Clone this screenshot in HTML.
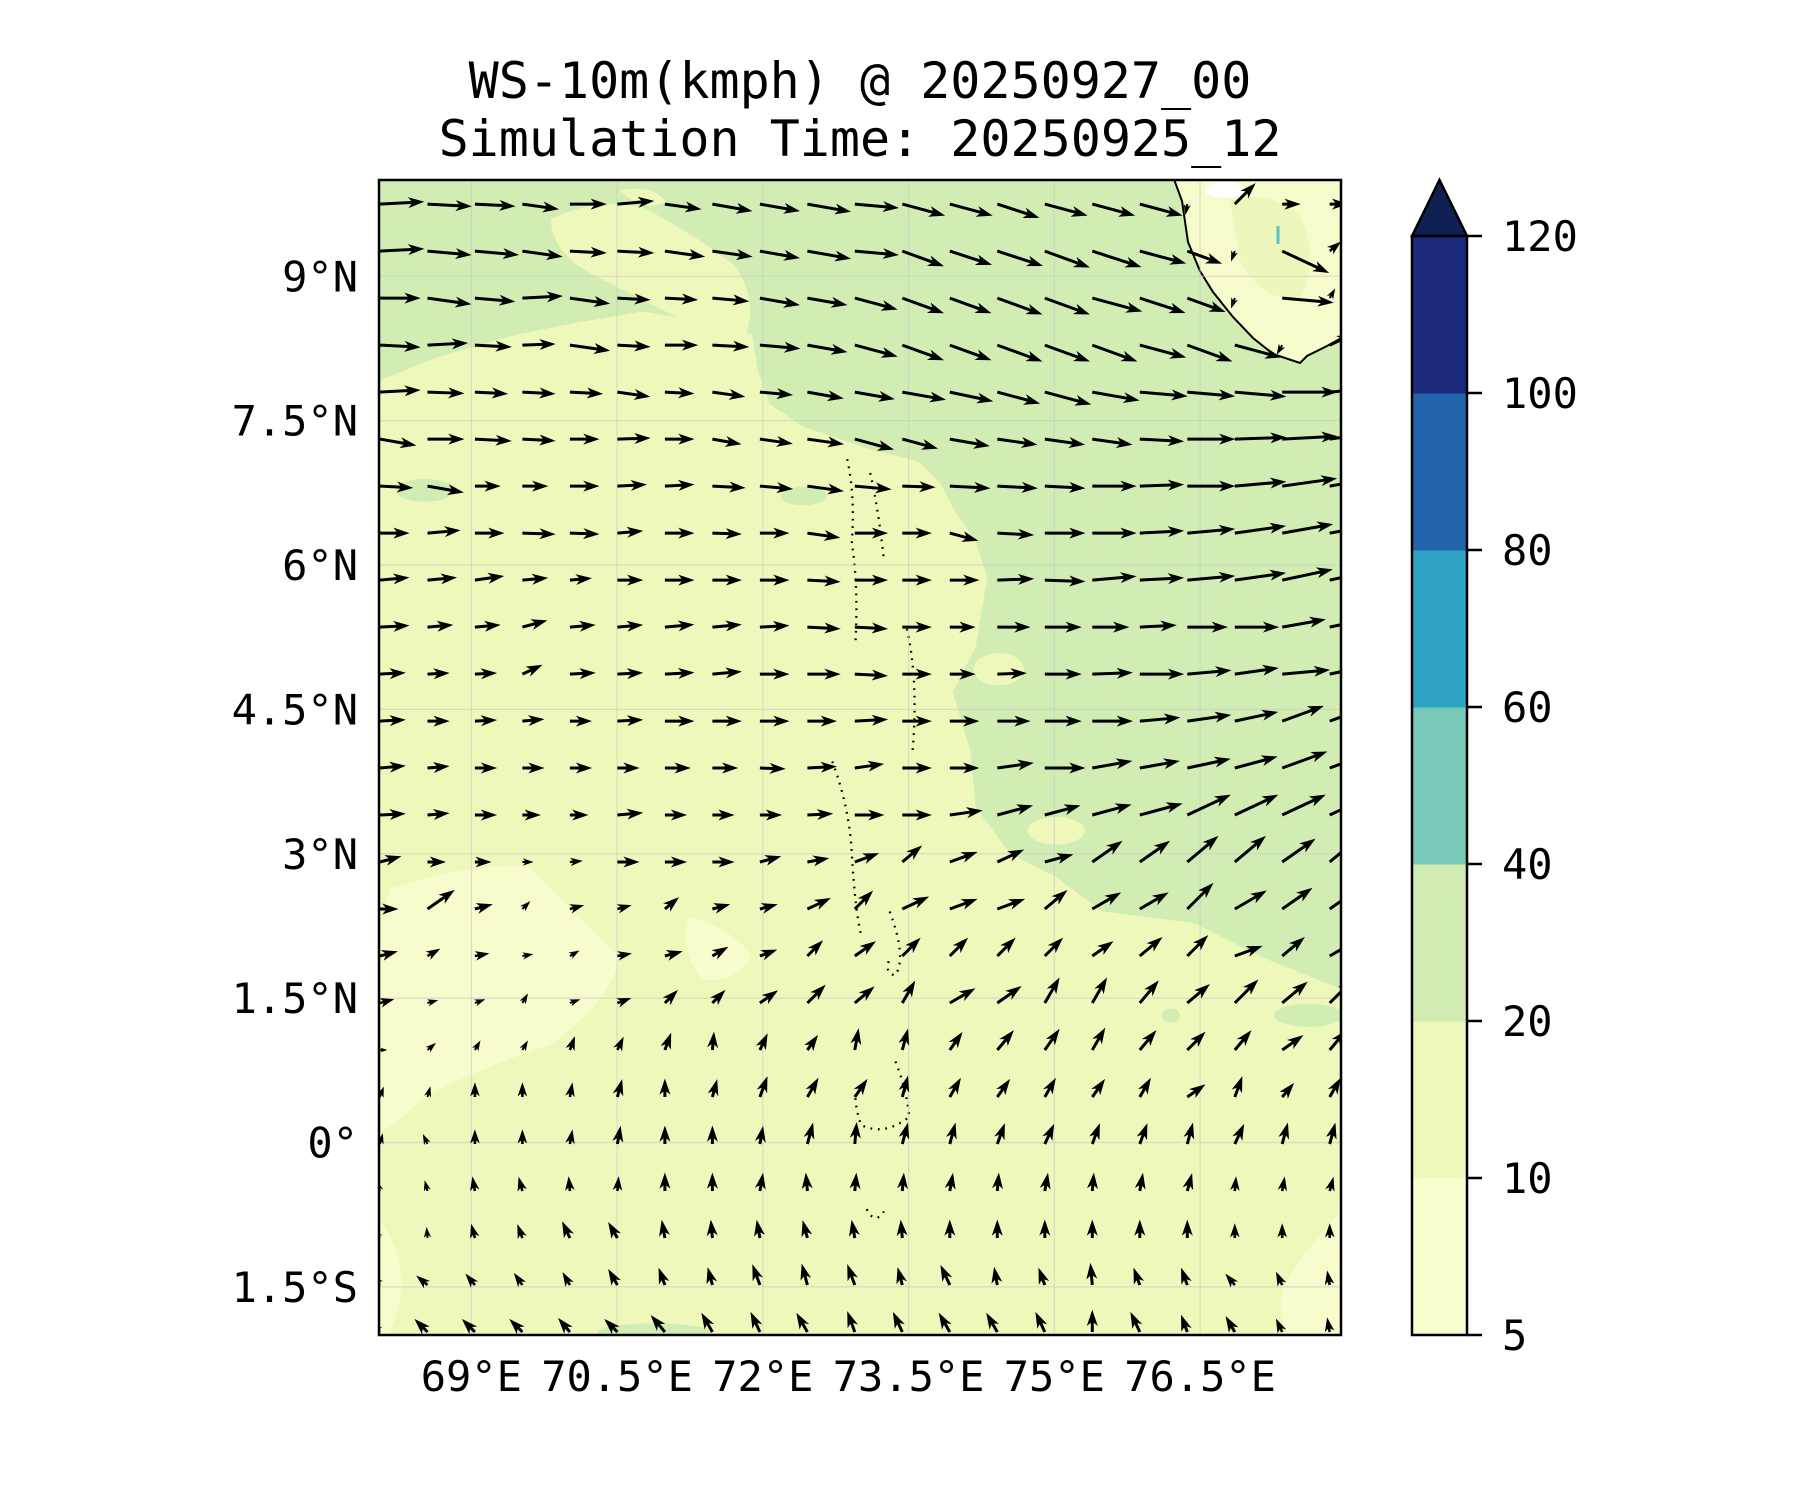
<!DOCTYPE html>
<html><head><meta charset="utf-8">
<style>
html,body{margin:0;padding:0;background:#fff;}
svg{display:block;font-family:"DejaVu Sans Mono","Liberation Mono",monospace;}
</style></head>
<body>
<svg id="fig" width="1800" height="1500" viewBox="0 0 1800 1500" xmlns="http://www.w3.org/2000/svg">
<defs><clipPath id="mapclip"><rect x="379" y="180" width="962" height="1155"/></clipPath></defs>
<text x="860" y="98" font-size="50" text-anchor="middle">WS-10m(kmph) @ 20250927_00</text>
<text x="860" y="156" font-size="50" text-anchor="middle">Simulation Time: 20250925_12</text>
<g clip-path="url(#mapclip)">
 <rect x="379" y="180" width="962" height="1155" fill="#eff8bb"/>
 <g transform="scale(1.148,1.1538)">
  <polygon fill="#d2edb4" points="330,157 1025,157 1175,157 1175,860 1100,830 1040,800 960,790 920,760 880,740 850,700 845,650 830,600 850,560 860,500 850,470 830,440 820,420 800,400 760,390 700,370 670,350 660,320 655,290 620,280 560,270 500,280 450,290 380,310 330,330"/>
  <g fill="#eff8bb">
   <path d="M480,190 Q520,170 560,180 Q600,200 640,230 Q660,260 650,290 L600,280 Q560,260 520,240 Q480,220 480,190Z"/>
   <path d="M540,165 Q570,160 580,175 Q560,185 540,165Z"/>
   <path d="M330,330 L380,320 L400,340 L360,380 L340,420 L330,420Z"/>
   <ellipse cx="1000" cy="835" rx="40" ry="15"/>
   <ellipse cx="920" cy="720" rx="25" ry="12"/>
   <ellipse cx="870" cy="580" rx="22" ry="14"/>
  </g>
  <g fill="#d2edb4">
   <ellipse cx="370" cy="425" rx="25" ry="10"/>
   <ellipse cx="700" cy="430" rx="20" ry="8"/>
   <ellipse cx="1140" cy="880" rx="30" ry="10"/>
   <ellipse cx="1020" cy="880" rx="8" ry="6"/>
   <ellipse cx="570" cy="1155" rx="50" ry="8"/>
  </g>
  <g fill="#f8fccc">
   <path d="M340,770 Q400,750 460,750 Q500,790 540,830 Q530,870 480,905 Q420,925 370,950 Q345,975 332,980 L332,800Z"/>
   <path d="M600,795 Q640,805 655,830 Q635,855 610,848 Q592,820 600,795Z"/>
   <path d="M1168,1050 Q1135,1085 1118,1115 Q1110,1150 1130,1163 L1175,1163Z"/>
   <path d="M332,1060 Q355,1090 348,1130 Q340,1160 332,1163Z"/>
  </g>
 </g>
 <path d="M1175,180 L1175,182 1182,201 1188,242 1200,271 1213,292 1233,317 1253,338 1273,354 1300,363 1307,356 1327,346 1345,336 L1345,180Z" fill="#f7fbcb" stroke="#000" stroke-width="2"/>
 <path d="M1230,200 Q1270,190 1300,215 Q1320,260 1300,300 Q1260,300 1240,260Z" fill="#eef7bb"/>
 <ellipse cx="1225" cy="190" rx="20" ry="8" fill="#fff"/>
 <line x1="1278" y1="226" x2="1278" y2="244" stroke="#5bbfc9" stroke-width="3"/>
 <g transform="scale(1.148,1.1538)" fill="none" stroke="#000" stroke-width="2" stroke-dasharray="1.5 5">
  <path d="M738,398 Q745,430 742,470 Q748,510 745,560 M758,410 Q765,440 770,485 M790,545 Q800,590 795,650"/>
  <path d="M725,660 Q740,700 742,740 Q745,790 750,810 M775,790 Q790,830 780,845 Q770,845 775,830"/>
  <path d="M780,920 Q790,945 792,968 Q770,985 750,975 Q745,960 745,948 M755,1048 Q762,1062 770,1050"/>
 </g>
 <g id="grid" stroke="#c8c8c8" stroke-opacity="0.6" stroke-width="1.2"></g>
 <g id="arrows" fill="#000"></g>
</g>
<rect x="379" y="180" width="962" height="1155" fill="none" stroke="#000" stroke-width="2.5"/>
<g id="ticks" font-size="42"></g>
<g id="cbar"></g>
</svg>
<script>
const lonTicks=[69,70.5,72,73.5,75,76.5];
const lonLabels=["69°E","70.5°E","72°E","73.5°E","75°E","76.5°E"];
const latTicks=[-1.5,0,1.5,3,4.5,6,7.5,9];
const latLabels=["1.5°S","0°","1.5°N","3°N","4.5°N","6°N","7.5°N","9°N"];
const cbLevels=[5,10,20,40,60,80,100,120];
const cbColors=["#fafdd0","#eef8b9","#d0ecb3","#79c9b9","#2ea3c5","#2164ac","#1c2a7b"];
// wind directions (deg, 0=east, 90=north), one array per grid row from north to south
const dirs=[
[3,-3,-3,-8,0,5,-8,-10,-10,-10,-5,-15,-15,-18,-15,-15,-15,-100,45,0,0],
[3,-5,-5,-8,-3,-3,-8,-8,-10,-10,-5,-20,-18,-18,-20,-18,-15,-20,-110,-25,40],
[0,-8,-5,3,-8,-3,-3,-5,-10,-10,-15,-20,-20,-20,-20,-15,-18,-20,-110,-5,60],
[-3,3,-3,2,-8,-3,0,-3,-5,-10,-15,-20,-20,-20,-20,-20,-15,-20,-15,-120,25],
[3,-2,-3,-3,-3,-8,-3,-8,-5,-10,-10,-10,-12,-15,-15,-10,-5,-5,-5,0,5],
[-10,0,-3,-3,0,2,0,-10,-8,-8,-15,-15,-10,-8,-8,-8,-3,0,2,3,8],
[-3,-10,0,0,0,3,3,-3,-5,-8,-5,-2,-3,-3,-3,0,2,0,5,8,10],
[0,5,0,-2,-2,5,0,-2,0,-8,0,0,-15,-3,0,0,3,5,8,10,10],
[5,5,8,5,5,0,0,0,0,-3,0,0,0,2,-2,5,3,5,8,12,12],
[3,5,5,15,5,5,5,5,3,-3,-3,0,0,0,0,0,3,0,0,10,12],
[3,3,3,25,3,3,3,5,0,0,-3,0,0,2,0,2,0,5,8,5,12],
[3,0,3,5,0,3,0,0,0,0,3,0,0,0,0,0,5,8,12,20,20],
[5,5,0,0,0,0,0,0,-2,3,8,0,0,8,0,10,10,12,15,20,20],
[3,5,0,0,0,5,0,0,0,3,0,0,8,15,15,15,15,25,25,25,25],
[15,0,0,0,5,0,0,0,15,10,20,40,20,25,15,35,35,40,40,35,40],
[0,35,15,45,15,15,40,15,15,25,45,25,20,20,40,30,30,45,30,35,35],
[15,30,10,10,30,10,15,30,20,45,35,45,45,45,45,35,40,45,20,40,30],
[15,15,20,60,20,20,45,45,35,45,40,60,30,35,60,60,50,40,45,40,45],
[0,40,60,60,70,65,70,85,65,55,80,75,55,50,55,60,50,45,50,35,50],
[70,75,90,90,80,75,90,75,70,60,55,75,60,55,60,55,60,35,70,50,60],
[75,115,90,90,80,80,90,90,80,75,85,75,75,70,65,70,70,75,65,75,75],
[110,105,100,105,95,85,90,90,80,95,85,85,80,85,80,85,80,75,85,80,75],
[130,95,105,110,115,120,100,95,100,105,100,95,90,90,90,90,90,90,90,90,90],
[135,140,130,125,120,120,110,105,110,105,110,105,115,100,110,95,110,110,130,115,100],
[145,135,135,135,130,135,130,120,115,120,110,115,120,120,115,90,115,110,120,115,100]
];
// wind speed (kmph) per grid cell, rows north to south
const speeds=[
[24,24,22,20,20,20,20,22,22,24,24,24,24,24,24,24,24,6,16,10,10],
[24,24,24,22,20,20,22,22,22,24,24,24,24,26,26,28,26,20,6,28,8],
[22,24,22,22,22,18,18,20,22,22,24,24,24,26,26,28,26,22,6,28,6],
[22,22,20,18,22,18,18,20,22,22,24,24,24,26,26,26,26,26,26,6,14],
[22,20,18,18,18,18,16,18,18,20,22,24,24,24,26,26,26,26,28,30,30],
[20,20,20,18,16,18,16,16,18,20,22,20,22,22,22,22,24,26,28,30,30],
[18,20,14,14,16,16,16,18,18,20,20,18,22,22,22,24,24,26,28,30,30],
[16,18,16,18,16,14,16,16,16,18,18,16,16,20,22,24,24,26,28,28,28],
[16,16,16,14,12,14,16,16,16,18,18,16,16,20,22,24,24,26,28,28,28],
[16,14,14,14,14,14,16,16,16,18,18,16,14,18,20,20,20,22,24,24,26],
[14,12,12,12,14,14,16,16,16,18,18,16,14,16,20,22,24,24,24,26,28],
[14,12,12,12,12,14,16,16,16,16,18,16,16,18,20,22,22,24,24,24,26],
[14,12,12,12,12,12,14,14,14,16,16,16,16,20,22,22,22,24,24,26,28],
[14,12,12,10,10,14,12,12,12,14,16,16,18,20,20,22,24,26,26,26,26],
[12,10,9,6,7,12,12,12,12,12,14,14,16,16,16,20,20,22,22,22,22],
[10,18,10,6,8,8,10,10,10,14,14,16,16,16,16,18,18,20,20,20,20],
[10,8,8,6,6,8,10,10,10,12,14,14,14,14,14,14,16,16,16,16,18],
[8,6,6,6,6,8,10,10,12,14,14,14,16,16,16,16,16,16,18,18,18],
[4,6,6,6,8,8,10,10,10,10,12,12,12,14,14,14,14,14,14,14,14],
[6,6,8,8,8,10,10,10,12,12,12,12,12,12,12,12,12,12,12,10,12],
[6,6,8,8,8,10,10,10,10,12,12,12,12,12,12,12,12,12,12,12,12],
[6,6,8,8,8,8,10,10,10,10,10,10,10,10,10,10,10,10,8,8,8],
[6,6,8,8,10,10,10,10,10,10,10,10,10,10,10,10,10,10,8,8,8],
[8,8,8,8,8,10,10,10,12,12,12,10,12,10,10,12,10,10,8,8,8],
[8,10,10,10,10,10,12,12,12,12,12,12,12,12,12,12,12,10,10,8,8]
];
const NS="http://www.w3.org/2000/svg";
const X0=379,X1=1341,Y0=180,Y1=1335,LON0=68.05,LON1=77.95,LAT0=-2,LAT1=10;
function xs(lon){return X0+(lon-LON0)/(LON1-LON0)*(X1-X0);}
function ys(lat){return Y1-(lat-LAT0)/(LAT1-LAT0)*(Y1-Y0);}
const grid=document.getElementById('grid'),ticks=document.getElementById('ticks');
lonTicks.forEach((v,i)=>{
 const l=document.createElementNS(NS,'line');
 
 
 l.setAttribute('x1',xs(v));l.setAttribute('x2',xs(v));l.setAttribute('y1',Y0);l.setAttribute('y2',Y1);grid.appendChild(l);
 const t=document.createElementNS(NS,'text');
 
 
 t.setAttribute('x',xs(v));t.setAttribute('y',1391);t.setAttribute('text-anchor','middle');t.textContent=lonLabels[i];ticks.appendChild(t);
});
latTicks.forEach((v,i)=>{
 const l=document.createElementNS(NS,'line');
 
 
 l.setAttribute('x1',X0);l.setAttribute('x2',X1);l.setAttribute('y1',ys(v));l.setAttribute('y2',ys(v));grid.appendChild(l);
 const t=document.createElementNS(NS,'text');
 
 
 t.setAttribute('x',358);t.setAttribute('y',ys(v)+15);t.setAttribute('text-anchor','end');t.textContent=latLabels[i];ticks.appendChild(t);
});
const arrows=document.getElementById('arrows');
const lonStart=68.06,dLon=0.4887,latStart=9.75,dLat=0.4883,pxPerK=1.85;
dirs.forEach((row,r)=>{
 const lat=latStart-r*dLat;
 row.forEach((d,c)=>{
  const lon=lonStart+c*dLon;
  const L=speeds[r][c]*pxPerK;
  let hl=13,hw=5.5,w=1.5;
  if(L<hl*1.3){const f=L/(hl*1.3);hl*=f;hw*=f;w*=Math.max(f,0.6);}
  const s=L-hl;
  const p=document.createElementNS(NS,'polygon');
  
  
  p.setAttribute('points',`0,${-w} ${s},${-w} ${s-hl*0.25},${-hw} ${L},0 ${s-hl*0.25},${hw} ${s},${w} 0,${w}`);
  p.setAttribute('transform',`translate(${xs(lon).toFixed(1)},${ys(lat).toFixed(1)}) rotate(${-d})`);
  arrows.appendChild(p);
 });
});
const cb=document.getElementById('cbar');
const CX=1412,CW=55,CB=1335,step=157;
cbColors.forEach((col,i)=>{
 const r=document.createElementNS(NS,'rect');
 
 
 r.setAttribute('x',CX);r.setAttribute('y',CB-(i+1)*step);r.setAttribute('width',CW);r.setAttribute('height',step+0.5);r.setAttribute('fill',col);cb.appendChild(r);
});
const tri=document.createElementNS(NS,'polygon');


tri.setAttribute('points',`${CX},${CB-7*step} ${CX+CW/2},180 ${CX+CW},${CB-7*step}`);
tri.setAttribute('fill','#0e2054');tri.setAttribute('stroke','#000');tri.setAttribute('stroke-width','2.5');cb.appendChild(tri);
const fr=document.createElementNS(NS,'rect');


fr.setAttribute('x',CX);fr.setAttribute('y',CB-7*step);fr.setAttribute('width',CW);fr.setAttribute('height',7*step);fr.setAttribute('fill','none');fr.setAttribute('stroke','#000');fr.setAttribute('stroke-width','2.5');cb.appendChild(fr);
cbLevels.forEach((v,i)=>{
 const y=CB-i*step;
 const l=document.createElementNS(NS,'line');
 
 
 l.setAttribute('x1',CX+CW);l.setAttribute('x2',CX+CW+15);l.setAttribute('y1',y);l.setAttribute('y2',y);l.setAttribute('stroke','#000');l.setAttribute('stroke-width','2.5');cb.appendChild(l);
 const t=document.createElementNS(NS,'text');
 
 
 t.setAttribute('x',1502);t.setAttribute('y',y+15);t.setAttribute('font-size','42');t.textContent=v;cb.appendChild(t);
});
</script>
</body></html>
